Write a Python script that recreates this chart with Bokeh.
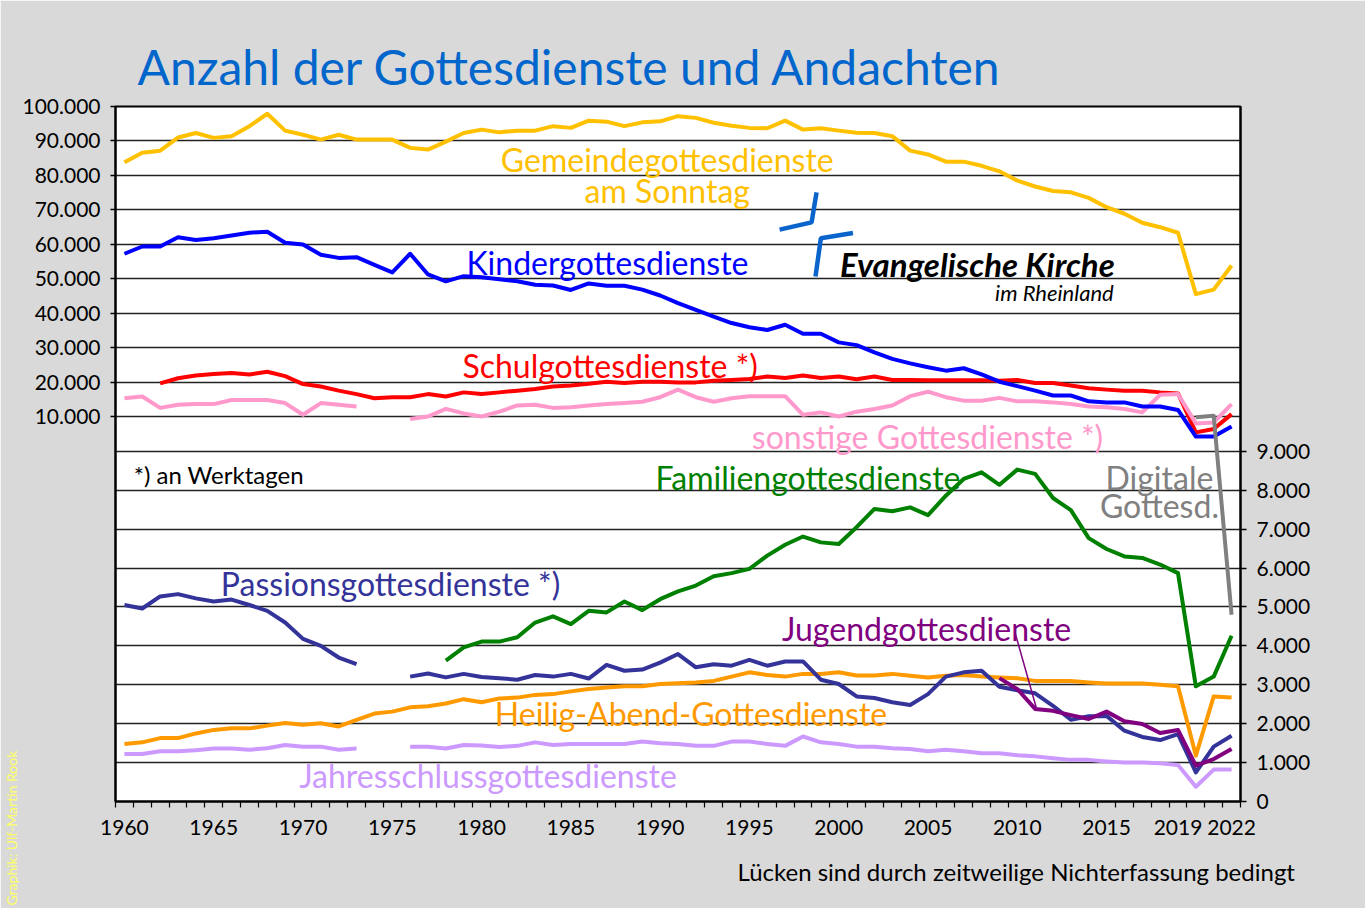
import math
import numpy as np
from bokeh.plotting import figure
from bokeh.models import Range1d, LinearAxis, FixedTicker, Grid, Label, Title
from bokeh.embed import file_html
from bokeh.resources import INLINE

nan = float("nan")
years = list(range(1960, 2023))

# ---- upper scale (left axis) ----
gemeinde = [83800, 86600, 87200, 91000, 92300, 90900, 91400, 94300, 97900, 93000,
            91800, 90400, 91800, 90400, 90400, 90400, 88000, 87500, 89800, 92300,
            93300, 92500, 93000, 93000, 94300, 93800, 95900, 95600, 94300, 95400,
            95700, 97200, 96700, 95300, 94400, 93800, 93700, 95900, 93300, 93700,
            93000, 92400, 92300, 91400, 87200, 86100, 84000, 84000, 82800, 81200,
            78500, 76800, 75500, 75100, 73500, 70800, 68900, 66300, 65000, 63400,
            45600, 46900, 53900]
kinder = [57300, 59400, 59400, 62100, 61300, 61800, 62600, 63400, 63700, 60500,
          60000, 57000, 56100, 56300, 54100, 51900, 57300, 51300, 49300, 50800,
          50500, 49900, 49300, 48300, 48100, 46800, 48700, 48000, 48000, 46900,
          45200, 43000, 41000, 39100, 37200, 36000, 35200, 36700, 34100, 34100,
          31600, 30800, 28700, 26800, 25500, 24400, 23400, 24100, 22300, 20200,
          18900, 17600, 16200, 16200, 14500, 14200, 14200, 13000, 13000, 12000,
          4300, 4300, 7200]
schul = [nan, nan, 19700, 21200, 22000, 22400, 22700, 22300, 23100, 21800,
         19500, 18800, 17600, 16600, 15400, 15700, 15700, 16600, 15900, 17100,
         16600, 17100, 17600, 18100, 18800, 19100, 19600, 20200, 19800, 20200,
         20200, 20000, 20000, 20500, 20700, 21000, 21700, 21300, 22000, 21300,
         21700, 20900, 21700, 20700, 20700, 20600, 20600, 20600, 20600, 20500,
         20700, 19800, 19800, 19100, 18300, 17900, 17600, 17600, 17100, 16800,
         5500, 6500, 10800]
sonstige = [15400, 15900, 12600, 13500, 13700, 13700, 14900, 14900, 14900, 14000,
            10600, 14000, 13500, 13000, nan, nan, 9400, 10100, 12300, 11000,
            10100, 11500, 13300, 13500, 12600, 12800, 13300, 13700, 14000, 14400,
            15700, 17900, 15700, 14400, 15400, 16000, 16000, 16000, 10600, 11300,
            10100, 11500, 12300, 13300, 16000, 17300, 15700, 14700, 14700, 15500,
            14500, 14500, 14200, 13700, 13000, 12800, 12300, 11300, 16400, 16600,
            8100, 8400, 13700]

# ---- lower scale (right axis) ----
familien = [nan] * 18 + [3620, 3960,
            4110, 4110, 4220, 4600, 4760, 4560, 4900, 4860, 5140, 4920,
            5200, 5400, 5550, 5790, 5870, 5980, 6320, 6600, 6810, 6660,
            6620, 7050, 7520, 7460, 7560, 7360, 7860, 8290, 8460, 8140,
            8530, 8420, 7800, 7490, 6770, 6490, 6300, 6260, 6090, 5870,
            2960, 3210, 4260]
passion = [5050, 4960, 5270, 5330, 5220, 5140, 5190, 5050, 4900, 4600,
           4180, 4000, 3700, 3530, nan, nan, 3210, 3290, 3190, 3280,
           3200, 3170, 3130, 3250, 3210, 3280, 3160, 3510, 3360, 3390,
           3570, 3790, 3450, 3530, 3490, 3640, 3490, 3600, 3600, 3130,
           3020, 2700, 2660, 2550, 2480, 2760, 3210, 3320, 3360, 2950,
           2860, 2780, 2460, 2100, 2190, 2200, 1820, 1660, 1580, 1730,
           750, 1410, 1690]
jugend = [nan] * 49 + [3170,
          2890, 2380, 2330, 2220, 2120, 2310, 2060, 1990, 1760, 1840,
          920, 1090, 1350]
heiligabend = [1480, 1520, 1630, 1630, 1750, 1840, 1880, 1880, 1950, 2020,
               1970, 2010, 1930, 2100, 2260, 2310, 2420, 2450, 2520, 2630,
               2550, 2650, 2670, 2740, 2760, 2830, 2890, 2930, 2960, 2960,
               3020, 3040, 3060, 3100, 3210, 3320, 3250, 3210, 3280, 3280,
               3320, 3240, 3240, 3280, 3230, 3190, 3230, 3250, 3210, 3190,
               3170, 3100, 3100, 3100, 3060, 3030, 3030, 3030, 3000, 2960,
               1180, 2700, 2670]
jahresschluss = [1220, 1220, 1290, 1290, 1320, 1360, 1360, 1330, 1370, 1450,
                 1410, 1410, 1330, 1360, nan, nan, 1410, 1410, 1360, 1450,
                 1440, 1400, 1430, 1520, 1450, 1480, 1480, 1480, 1480, 1540,
                 1500, 1480, 1430, 1430, 1540, 1540, 1480, 1430, 1670, 1520,
                 1480, 1410, 1410, 1370, 1350, 1290, 1330, 1290, 1240, 1240,
                 1190, 1160, 1110, 1070, 1070, 1030, 1000, 1000, 980, 940,
                 380, 820, 820]

# Digitale Gottesdienste: first two values read on the upper scale, last on the lower
digital_years = [2020, 2021, 2022]
digital_values = [9900, 10300, 4800]
digital_scale = ["upper", "upper", "lower"]

upper_ticks = [10000, 20000, 30000, 40000, 50000, 60000, 70000, 80000, 90000, 100000]
lower_ticks = [0, 1000, 2000, 3000, 4000, 5000, 6000, 7000, 8000, 9000]
x_tick_years = [1960, 1965, 1970, 1975, 1980, 1985, 1990, 1995, 2000, 2005, 2010, 2015, 2019, 2022]

def de(n):
    return "{:,}".format(n).replace(",", ".")

LOWER = Range1d(0, 17863)
UPPER = Range1d(-101538, 100000)

W, H = 1365, 908
FL, FT, FW, FH = 115, 106, 1125, 695
p = figure(width=W, height=H, output_backend="svg", toolbar_location=None,
           x_range=Range1d(1959.5, 2022.5), y_range=LOWER, y_axis_location="right",
           min_border_left=FL, min_border_right=W - FL - FW,
           min_border_top=FT, min_border_bottom=H - FT - FH)
p.extra_y_ranges = {"upper": UPPER}
p.border_fill_color = "#d9d9d9"
p.background_fill_color = "white"
p.outline_line_color = "black"
p.outline_line_width = 2

FONT = "Lato"

# title
p.title.text = "Anzahl der Gottesdienste und Andachten"
p.title.text_font = FONT
p.title.text_font_size = "48px"
p.title.text_font_style = "normal"
p.title.text_color = "#0066CC"
p.title.align = "left"
p.title.offset = 22
p.title.standoff = 24

# right axis (lower scale)
ra = p.yaxis[0]
ra.ticker = FixedTicker(ticks=lower_ticks)
ra.major_label_overrides = {t: de(t) for t in lower_ticks}
ra.major_tick_in = 0
ra.major_tick_out = 6
ra.minor_tick_line_color = None
ra.axis_line_width = 2
ra.major_tick_line_width = 1.5
ra.major_label_text_font = FONT
ra.major_label_text_font_size = "21px"
ra.major_label_text_color = "black"
ra.major_label_standoff = 10

# left axis (upper scale)
la = LinearAxis(y_range_name="upper", ticker=FixedTicker(ticks=upper_ticks))
la.major_label_overrides = {t: de(t) for t in upper_ticks}
la.major_tick_in = 0
la.major_tick_out = 5
la.minor_tick_line_color = None
la.axis_line_width = 2
la.major_tick_line_width = 1.5
la.major_label_text_font = FONT
la.major_label_text_font_size = "21px"
la.major_label_text_color = "black"
la.major_label_standoff = 10
p.add_layout(la, "left")

# bottom axis
xa = p.xaxis[0]
xa.ticker = FixedTicker(ticks=x_tick_years, minor_ticks=[y - 0.5 for y in years] + [2022.5])
xa.major_label_overrides = {y: str(y) for y in x_tick_years}
xa.major_tick_line_color = None
xa.minor_tick_in = 0
xa.minor_tick_out = 6
xa.minor_tick_line_width = 1.2
xa.axis_line_width = 2
xa.major_label_text_font = FONT
xa.major_label_text_font_size = "21px"
xa.major_label_text_color = "black"
xa.major_label_standoff = 12

# footer and credit as side titles
p.add_layout(Title(text="Lücken sind durch zeitweilige Nichterfassung bedingt", align="left",
                   offset=622, text_font=FONT, text_font_size="24px", text_font_style="normal",
                   text_color="black", standoff=34), "below")
p.add_layout(Title(text="Graphik: Ulf-Martin Rook", align="left", offset=-104,
                   text_font=FONT, text_font_size="14px", text_font_style="normal",
                   text_color="#FFFF66", standoff=0), "left")

# grids
p.xgrid.visible = False
p.ygrid.ticker = FixedTicker(ticks=lower_ticks[1:])
p.ygrid.grid_line_color = "#222222"
p.ygrid.grid_line_width = 1.5
ug = Grid(dimension=1, ticker=FixedTicker(ticks=upper_ticks), y_range_name="upper",
          grid_line_color="#222222", grid_line_width=1.5)
p.add_layout(ug)

LW = 4
def ln(vals, color, rng=None, lw=LW):
    kw = dict(line_width=lw, line_color=color, line_join="round")
    if rng:
        kw["y_range_name"] = rng
    p.line(years, np.array(vals, dtype=float), **kw)

# lower series
ln(jahresschluss, "#CC99FF")
ln(heiligabend, "#FF9900")
ln(passion, "#333399")
ln(jugend, "#800080")
ln(familien, "#008000")
# upper series
ln(schul, "#FF0000", "upper")
ln(sonstige, "#FF99CC", "upper")
ln(kinder, "#0000FF", "upper")
ln(gemeinde, "#FFC000", "upper")

# digital: map lower-scale value onto the upper range
def lower_to_upper(v):
    f = (v - LOWER.start) / (LOWER.end - LOWER.start)
    return UPPER.start + f * (UPPER.end - UPPER.start)
dig_y = [v if s == "upper" else lower_to_upper(v) for v, s in zip(digital_values, digital_scale)]
p.line(digital_years, dig_y, line_width=4, line_color="#808080", y_range_name="upper", line_join="round")

# Jugend leader line
p.line([2009.87, 2011.06], [4346, 2417], line_width=1.5, line_color="#800080")

# logo strokes (upper scale)
logo_x = [[1996.69, 1998.48, 1998.76], [1998.70, 1999.00, 2000.80]]
logo_y = [[64300, 66400, 75100], [50700, 61800, 63300]]
p.multi_line(logo_x, logo_y, line_width=4.5, line_color="#0A64CC", y_range_name="upper")

def lab(x, y, text, color, size, rng=None, align="center", style="normal", font=FONT):
    kw = dict(x=x, y=y, text=text, text_color=color, text_font=font,
              text_font_size=size, text_align=align, text_baseline="middle",
              text_font_style=style)
    if rng:
        kw["y_range_name"] = rng
    p.add_layout(Label(**kw))

S = "32px"
lab(1990.4, 84500, "Gemeindegottesdienste", "#FFC000", S, "upper")
lab(1990.4, 75700, "am Sonntag", "#FFC000", S, "upper")
lab(1987.05, 54800, "Kindergottesdienste", "#0000FF", S, "upper")
lab(1987.2, 24900, "Schulgottesdienste *)", "#FF0000", S, "upper")
lab(2004.97, 4300, "sonstige Gottesdienste *)", "#FF99CC", S, "upper")
lab(1960.52, 8406, "*) an Werktagen", "black", "24px", align="left")
lab(1998.28, 8324, "Familiengottesdienste", "#008000", S)
lab(2017.96, 8324, "Digitale", "#808080", S)
lab(2017.96, 7604, "Gottesd.", "#808080", S)
lab(1974.9, 5598, "Passionsgottesdienste *)", "#333399", S)
lab(2004.92, 4441, "Jugendgottesdienste", "#800080", S)
lab(1991.73, 2255, "Heilig-Abend-Gottesdienste", "#FF9900", S)
lab(1980.36, 661, "Jahresschlussgottesdienste", "#CC99FF", S)
lab(2015.46, 54200, "Evangelische Kirche", "black", "33px", "upper", align="right", style="bold italic")
lab(2015.4, 46000, "im Rheinland", "black", "22px", "upper", align="right", style="italic")

open("out.html", "w").write(file_html(p, INLINE))
